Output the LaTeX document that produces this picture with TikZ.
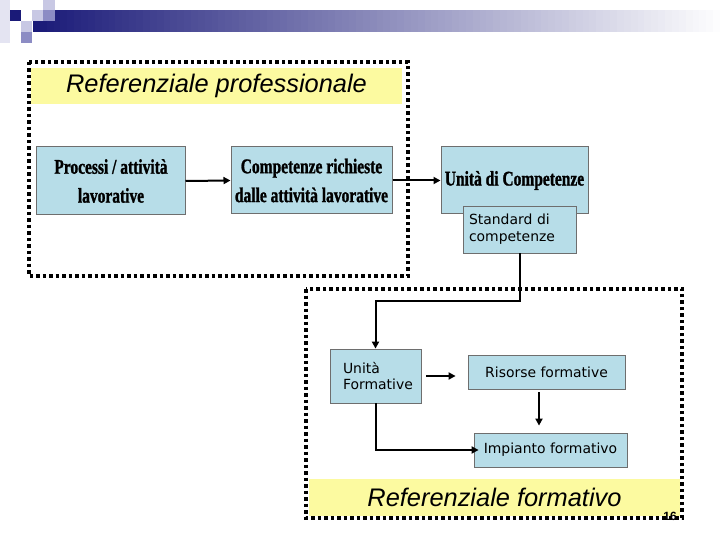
\documentclass[tikz,border=0pt]{standalone}
\usepackage{fontspec}
\setmainfont{Liberation Sans}
\newfontfamily\condfont[FakeStretch=0.74,FakeBold=1.2]{Liberation Serif}
\newfontfamily\vfont{DejaVu Sans}
\newfontfamily\afont{Liberation Sans}
\usetikzlibrary{arrows.meta,positioning}
\definecolor{boxblue}{RGB}{183,221,232}
\definecolor{boxedge}{RGB}{110,110,110}
\definecolor{ylw}{RGB}{252,250,160}
\definecolor{navy}{RGB}{26,26,120}
\definecolor{lav}{RGB}{200,200,228}
\definecolor{medlav}{RGB}{140,140,196}
\definecolor{palelav}{RGB}{228,228,242}
\tikzset{
  bigbox/.style={draw=boxedge, line width=1bp, fill=boxblue, inner sep=0pt, align=center,
    font=\condfont\bfseries\fontsize{21}{29}\selectfont},
  smallbox/.style={draw=boxedge, line width=0.8bp, fill=boxblue, inner sep=0pt,
    font=\vfont\fontsize{14}{17}\selectfont},
  dotbox/.style={draw=black, line width=3.5bp, dash pattern=on 3.5bp off 3bp},
  ylwbox/.style={fill=ylw, draw=none, inner sep=0pt, font=\afont\itshape\fontsize{25.5}{30}\selectfont},
  arr/.style={line width=2bp, -{Triangle[length=7bp,width=7bp]}},
}
\begin{document}
\begin{tikzpicture}[x=1bp,y=-1bp]
\useasboundingbox (0,0) rectangle (720,540);
\fill[white] (0,0) rectangle (720,540);
% header decoration: gradient bar drawn as strips
\foreach \i in {0,...,99}{
  \pgfmathsetmacro{\p}{100-\i}
  \pgfmathsetmacro{\xa}{33+\i*6.87}
  \pgfmathsetmacro{\xb}{33+(\i+1)*6.87+0.5}
  \fill[navy!\p!white] (\xa,10) rectangle (\xb,32);
}
\fill[palelav] (0,0) rectangle (10,43);
\fill[navy] (10,10) rectangle (21,21);
\fill[lav] (32,10) rectangle (43,21);
\fill[medlav] (43,10) rectangle (55,21);
\fill[lav] (43,0) rectangle (55,10);
\fill[lav] (21,21) rectangle (32,32);
\fill[medlav] (21,32) rectangle (32,43);

% top group
\node[ylwbox, minimum width=371bp, minimum height=36bp] (yl1) at (216.5,86) {Referenziale professionale};
\draw[dotbox] (29,62) rectangle (408,276);

\node[bigbox, minimum width=148bp, minimum height=68bp] (b1) at (111,181) {Processi / attività\\lavorative};
\node[bigbox, minimum width=161bp, minimum height=67bp] (b2) at (311.5,180.5) {Competenze richieste\\dalle attività lavorative};
\node[bigbox, minimum width=147bp, minimum height=67bp] (b3) at (514.5,180.5) {Unità di Competenze};
\node[smallbox, minimum width=113bp, minimum height=47bp, text width=101bp, inner xsep=6bp, align=left] (std) at (519.5,229.5) {Standard di\\competenze};

\draw[arr] (b1.east) -- (b2.west);
\draw[arr] (b2.east) -- (b3.west);

% bottom group
\node[ylwbox, minimum width=371bp, minimum height=37bp] (yl2) at (494.5,497.5) {Referenziale formativo};
\draw[dotbox] (306,289) rectangle (682,518);

\node[smallbox, minimum width=91bp, minimum height=54bp, text width=65bp, inner xsep=13bp, align=left] (uf) at (375.5,376) {Unità\\Formative};
\node[smallbox, minimum width=157bp, minimum height=34bp, align=center] (ris) at (546.5,372) {Risorse formative};
\node[smallbox, minimum width=153bp, minimum height=34bp, align=center] (imp) at (550.5,450) {Impianto formativo};

\draw[arr] (std.south) -- ++(0,48) -| (uf.north);
\draw[arr, shorten <=5bp, shorten >=12bp] (uf.east) -- (uf.east -| ris.west);
\draw[arr, shorten <=3bp, shorten >=7bp] ([xshift=-7.5bp]ris.south) -- ([xshift=-7.5bp]ris.south |- imp.north);
\draw[arr, shorten >=-5bp] (uf.south) |- (imp.west);

\node[font=\afont\bfseries\fontsize{12}{12}\selectfont, inner sep=0pt] (pg) at (670,516) {16};
\end{tikzpicture}
\end{document}
